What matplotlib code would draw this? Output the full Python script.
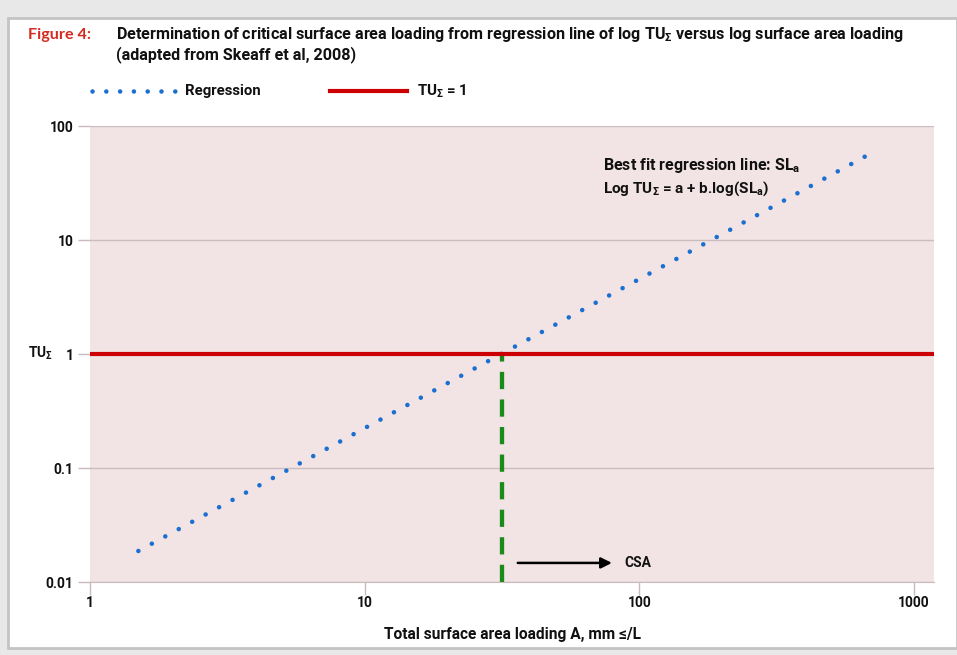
import matplotlib
matplotlib.use('Agg')
import matplotlib.pyplot as plt
from matplotlib.patches import Rectangle
from matplotlib.lines import Line2D

FONT = ['Roboto', 'DejaVu Sans']
plt.rcParams['font.family'] = FONT
plt.rcParams['font.stretch'] = 'condensed'
plt.rcParams['font.weight'] = 'bold'
plt.rcParams['mathtext.fontset'] = 'custom'
plt.rcParams['mathtext.rm'] = 'Roboto:bold'
plt.rcParams['mathtext.it'] = 'Roboto:bold'
plt.rcParams['mathtext.bf'] = 'Roboto:bold'

# ---- data ----
x_ticks = [1, 10, 100, 1000]
x_tick_labels = ['1', '10', '100', '1000']
y_ticks = [0.01, 0.1, 1, 10, 100]
y_tick_labels = ['0.01', '0.1', '1', '10', '100']
regression_x = [1.5, 662]
regression_y = [0.0187, 53.8]
threshold_tu = 1.0
csa = 31.6

W, H = 957, 655
fig = plt.figure(figsize=(W / 100, H / 100), dpi=100)
fig.patch.set_facecolor('#e8e8e8')
fig.add_artist(Rectangle((8 / W, (H - 648) / H), (W - 8) / W, (648 - 18) / H,
                         transform=fig.transFigure, facecolor='white',
                         edgecolor='#c4c4c4', linewidth=2.0, zorder=0))

ax = fig.add_axes([90 / W, 1 - 582 / H, (934 - 90) / W, (582 - 126) / H])
ax.set_facecolor('#f2e4e4')
ax.set_xscale('log')
ax.set_yscale('log')
ax.set_xlim(1, 1183)
ax.set_ylim(0.01, 100)

ax.set_xticks(x_ticks)
ax.set_xticklabels(x_tick_labels)
ax.set_yticks(y_ticks)
ax.set_yticklabels(y_tick_labels)
ax.minorticks_off()
ax.tick_params(axis='both', colors='#cbb9bd', labelcolor='#111111',
               labelsize=10, length=9, width=1)
ax.tick_params(axis='x', pad=1)
ax.tick_params(axis='y', pad=3)
for t in ax.get_xticklabels() + ax.get_yticklabels():
    t.set_fontweight('bold')

for s in ['top', 'right', 'left']:
    ax.spines[s].set_visible(False)
ax.spines['bottom'].set_color('#cbb9bd')
ax.grid(axis='y', color='#cbbcc0', linewidth=1)
ax.set_axisbelow(True)

ax.plot(regression_x, regression_y, color='#1a6fd0', linewidth=3.3,
        linestyle=(0, (0.01, 3.329)), dash_capstyle='round', zorder=3)
ax.axhline(threshold_tu, color='#cc0000', linewidth=3.0, zorder=4)
ax.plot([csa, csa], [0.01, threshold_tu], color='#1a8a1a', linewidth=3.1,
        linestyle=(0, (4, 2.4)), zorder=3, clip_on=False)

ax.text(73.7, 44.6, 'Best fit regression line: SL$_\\mathregular{a}$',
        fontsize=11.5, fontweight='bold', va='center', ha='left', color='#111111')
ax.text(73.7, 28.0, 'Log TU$_\\mathregular{\u03a3}$ = a + b.log(SL$_\\mathregular{a}$)',
        fontsize=11, fontweight='bold', va='center', ha='left', color='#111111')

ax.annotate('', xy=(79.5, 0.0147), xytext=(36.1, 0.0147),
            arrowprops=dict(arrowstyle='-|>', color='black', lw=1.8,
                            mutation_scale=16, shrinkA=0, shrinkB=0))
ax.text(87.9, 0.0147, 'CSA', fontsize=10, fontweight='bold', va='center',
        ha='left', color='#111111')

ax.set_xlabel('Total surface area loading A, mm \u2264/L', fontsize=11.2,
              fontweight='bold', labelpad=12, color='#111111')
fig.text(28 / W, 1 - 353 / H, 'TU$_\\mathregular{\u03a3}$', fontsize=10,
         fontweight='bold', va='center', ha='left', color='#111111')

fig.text(28 / W, 1 - 35 / H, 'Figure 4:', color='#d42a1e', fontsize=11.6,
         fontweight='bold', family=['Lato', 'DejaVu Sans'], fontstretch='normal',
         va='center', ha='left')
fig.text(116 / W, 1 - 35 / H,
         'Determination of critical surface area loading from regression line of log TU$_\\mathregular{\u03a3}$ versus log surface area loading',
         color='#111111', fontsize=11.6, fontweight='bold', va='center', ha='left')
fig.text(116 / W, 1 - 55 / H, '(adapted from Skeaff et al, 2008)',
         color='#111111', fontsize=11.6, fontweight='bold', va='center', ha='left')

ly = 1 - 91 / H
fig.add_artist(Line2D([92 / W, 175 / W], [ly, ly], transform=fig.transFigure,
                      color='#1a6fd0', linewidth=3.3, linestyle=(0, (0.01, 3.0)),
                      dash_capstyle='round'))
fig.text(185 / W, ly, 'Regression', fontsize=10.7, fontweight='bold',
         va='center', ha='left', color='#111111')
fig.add_artist(Line2D([330 / W, 407 / W], [ly, ly], transform=fig.transFigure,
                      color='#cc0000', linewidth=3.0))
fig.text(417 / W, ly, 'TU$_\\mathregular{\u03a3}$ = 1', fontsize=10.8, fontweight='bold',
         va='center', ha='left', color='#111111')

fig.savefig('out.png', dpi=100, facecolor=fig.get_facecolor())
